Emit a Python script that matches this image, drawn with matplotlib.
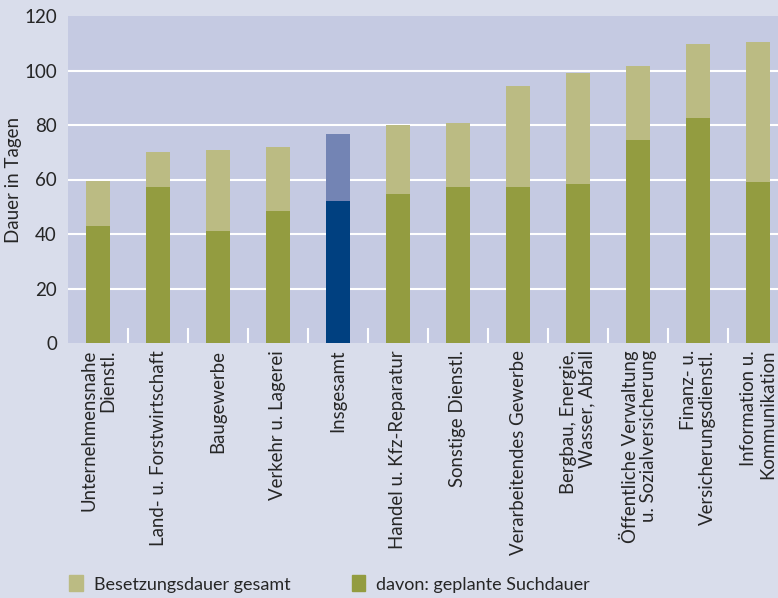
import matplotlib.pyplot as plt
import numpy as np

categories = [
    "Unternehmensnahe\nDienstl.",
    "Land- u. Forstwirtschaft",
    "Baugewerbe",
    "Verkehr u. Lagerei",
    "Insgesamt",
    "Handel u. Kfz-Reparatur",
    "Sonstige Dienstl.",
    "Verarbeitendes Gewerbe",
    "Bergbau, Energie,\nWasser, Abfall",
    "Öffentliche Verwaltung\nu. Sozialversicherung",
    "Finanz- u.\nVersicherungsdienstl.",
    "Information u.\nKommunikation",
]
besetzung = [59.4, 70.1, 70.8, 71.9, 76.7, 80.0, 80.7, 94.3, 99.1, 101.7, 109.7, 110.5]
suchdauer = [42.9, 57.2, 41.1, 48.4, 52.1, 54.7, 57.2, 57.2, 58.3, 74.5, 82.6, 59.1]
highlight = "Insgesamt"

plt.rcParams['font.family'] = ['Lato', 'DejaVu Sans']
text_col = '#262626'
fig_bg = '#d9ddeb'
ax_bg = '#c5cae2'
light = '#bbbb83'
dark = '#939c40'

fig = plt.figure(figsize=(7.78, 5.98), dpi=100, facecolor=fig_bg)
ax = fig.add_axes([68/778, 1-343/598, 720/778, 327/598], facecolor=ax_bg)

x = np.arange(len(categories))
c_light = ['#7384b4' if c == highlight else light for c in categories]
c_dark = ['#004080' if c == highlight else dark for c in categories]
ax.bar(x, besetzung, width=0.4, color=c_light, zorder=2, label='Besetzungsdauer gesamt')
ax.bar(x, suchdauer, width=0.4, color=c_dark, zorder=3, label='davon: geplante Suchdauer')

ax.set_xlim(-0.5, len(categories) - 0.5)
ax.set_ylim(0, 120)
ax.set_yticks(range(0, 121, 20))
for y in range(20, 101, 20):
    ax.axhline(y, color='white', lw=1.5, zorder=1)
for s in ax.spines.values():
    s.set_visible(False)

ax.set_xticks(x)
ax.set_xticklabels(categories, rotation=90, ha='center', va='top',
                   multialignment='right', fontsize=13.4, color=text_col,
                   linespacing=1.12)
ax.set_xticks(x[:-1] + 0.5, minor=True)
ax.tick_params(axis='x', which='major', length=0, pad=5)
ax.tick_params(axis='x', which='minor', direction='in', length=11, width=1.5, color='white')
ax.tick_params(axis='y', length=0, pad=8, labelsize=13.5, labelcolor=text_col)
ax.set_ylabel('Dauer in Tagen', fontsize=13.5, color=text_col)
ax.yaxis.set_label_coords(-46/720, 0.5)

handles, labels = ax.get_legend_handles_labels()
leg = fig.legend(handles, labels, loc='lower left', bbox_to_anchor=(0.068, -0.018),
                 ncol=2, frameon=False, handlelength=0.75, handleheight=1.0,
                 columnspacing=3.4, handletextpad=0.6, fontsize=13,
                 labelcolor=text_col)
leg.legend_handles[0].set_color(light)
leg.legend_handles[1].set_color(dark)

fig.savefig('out.png', dpi=100, facecolor=fig_bg)
